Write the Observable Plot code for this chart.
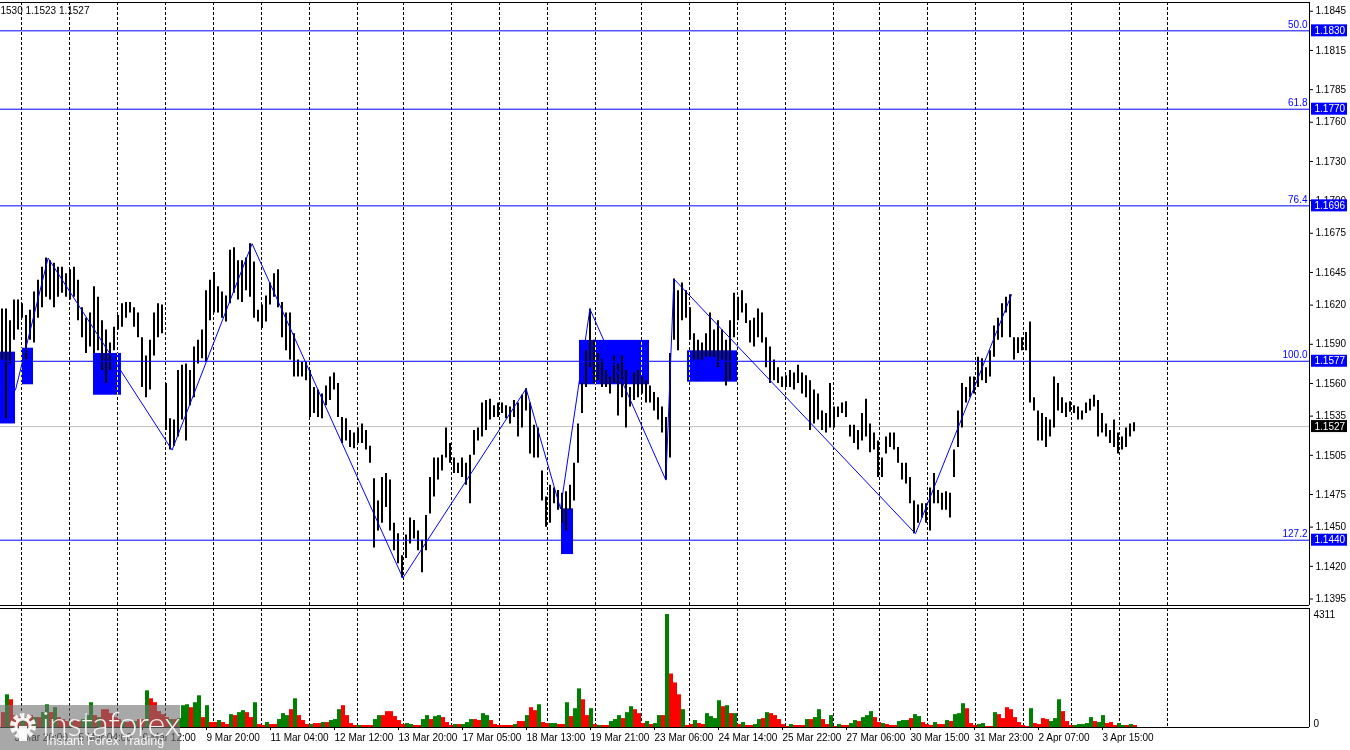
<!DOCTYPE html>
<html><head><meta charset="utf-8">
<script src="https://cdn.jsdelivr.net/npm/d3@7"></script>
<script src="https://cdn.jsdelivr.net/npm/@observablehq/plot@0.6"></script>
<style>
body{margin:0;background:#fff;overflow:hidden;font-family:"Liberation Sans",Arial,sans-serif}
#wrap{position:relative;width:1350px;height:750px;background:#fff}
#price,#vol{position:absolute;left:0}
#price{top:0}
#vol{top:607px}
#wm{position:absolute;left:0;top:705px;width:180px;height:45px;background:rgba(115,115,115,0.62);color:rgba(255,255,255,0.9)}
#wm .logo{position:absolute;left:42px;top:1px;line-height:1;font-family:Lato,"Open Sans",sans-serif;font-weight:300;font-size:34px;letter-spacing:-0.5px;white-space:nowrap}
#wm .sub{position:absolute;left:46px;top:30px;line-height:1;font-family:"Liberation Sans",Arial,sans-serif;font-size:12.5px;white-space:nowrap}
#wm svg{position:absolute;left:6px;top:4px}
</style></head><body>
<div id="wrap"><div id="price"></div><div id="vol"></div>
<div id="wm"><svg width="34" height="34" viewBox="0 0 34 34"><circle cx="17" cy="17" r="10" fill="none" stroke="rgba(255,255,255,0.9)" stroke-width="6" stroke-dasharray="4 2.3"/><circle cx="17" cy="17" r="7" fill="none" stroke="rgba(255,255,255,0.9)" stroke-width="3"/><rect x="13" y="17" width="8" height="15" fill="rgba(255,255,255,0.9)"/></svg><div class="logo">instaforex</div><div class="sub">Instant Forex Trading</div></div>
</div>
<script>
// ---- data (2-hour bars) ----
const highs = [
1.1617,1.1617,1.1608,1.1624,1.1624,1.1621,1.1612,1.1616,1.1630,1.1639,
1.1649,1.1656,1.1654,1.1652,1.1649,1.1649,1.1644,1.1647,1.1649,1.1639,
1.1618,1.1610,1.1614,1.1634,1.1626,1.1608,1.1601,1.1591,1.1603,1.1612,
1.1621,1.1622,1.1622,1.1618,1.1614,1.1595,1.1581,1.1593,1.1614,1.1621,
1.1620,1.1560,1.1533,1.1532,1.1570,1.1574,1.1575,1.1570,1.1588,1.1593,
1.1601,1.1631,1.1639,1.1645,1.1634,1.1630,1.1627,1.1662,1.1664,1.1654,
1.1654,1.1656,1.1667,1.1653,1.1616,1.1620,1.1627,1.1637,1.1644,1.1647,
1.1622,1.1614,1.1614,1.1598,1.1578,1.1576,1.1576,1.1570,1.1557,1.1555,
1.1552,1.1558,1.1565,1.1568,1.1560,1.1534,1.1533,1.1524,1.1522,1.1526,
1.1529,1.1524,1.1512,1.1487,1.1470,1.1488,1.1491,1.1486,1.1453,1.1445,
1.1428,1.1444,1.1457,1.1455,1.1447,1.1440,1.1459,1.1488,1.1503,1.1503,
1.1505,1.1526,1.1514,1.1503,1.1499,1.1503,1.1499,1.1505,1.1524,1.1526,
1.1545,1.1547,1.1548,1.1543,1.1545,1.1545,1.1543,1.1542,1.1547,1.1545,
1.1551,1.1556,1.1545,1.1528,1.1526,1.1493,1.1473,1.1482,1.1480,1.1478,
1.1476,1.1477,1.1482,1.1499,1.1529,1.1560,1.1585,1.1617,1.1593,1.1583,
1.1578,1.1570,1.1565,1.1581,1.1575,1.1581,1.1570,1.1557,1.1568,1.1570,
1.1565,1.1562,1.1558,1.1553,1.1549,1.1542,1.1534,1.1583,1.1640,1.1631,
1.1637,1.1631,1.1618,1.1598,1.1593,1.1591,1.1598,1.1614,1.1601,1.1608,
1.1601,1.1593,1.1608,1.1629,1.1626,1.1631,1.1621,1.1608,1.1610,1.1617,
1.1614,1.1595,1.1588,1.1578,1.1572,1.1565,1.1566,1.1570,1.1568,1.1574,
1.1568,1.1566,1.1562,1.1555,1.1552,1.1539,1.1537,1.1560,1.1542,1.1542,
1.1545,1.1546,1.1528,1.1528,1.1524,1.1537,1.1548,1.1529,1.1522,1.1516,
1.1503,1.1519,1.1522,1.1522,1.1511,1.1499,1.1499,1.1488,1.1470,1.1467,
1.1468,1.1468,1.1480,1.1491,1.1478,1.1476,1.1477,1.1476,1.1509,1.1539,
1.1560,1.1557,1.1565,1.1565,1.1580,1.1579,1.1572,1.1585,1.1604,1.1610,
1.1621,1.1626,1.1628,1.1595,1.1595,1.1595,1.1599,1.1607,1.1549,1.1539,
1.1537,1.1534,1.1532,1.1565,1.1560,1.1549,1.1545,1.1546,1.1543,1.1542,
1.1539,1.1545,1.1548,1.1551,1.1547,1.1537,1.1529,1.1524,1.1532,1.1522,
1.1519,1.1526,1.1529,1.1530];
const lows = [
1.1578,1.1533,1.1575,1.1593,1.1601,1.1610,1.1578,1.1593,1.1591,1.1610,
1.1618,1.1626,1.1624,1.1618,1.1626,1.1629,1.1626,1.1624,1.1626,1.1608,
1.1595,1.1583,1.1588,1.1583,1.1585,1.1570,1.1560,1.1570,1.1585,1.1601,
1.1603,1.1610,1.1614,1.1603,1.1595,1.1557,1.1549,1.1555,1.1581,1.1595,
1.1598,1.1524,1.1509,1.1512,1.1519,1.1532,1.1516,1.1543,1.1549,1.1575,
1.1579,1.1576,1.1608,1.1614,1.1614,1.1610,1.1607,1.1621,1.1629,1.1624,
1.1622,1.1631,1.1626,1.1610,1.1607,1.1602,1.1607,1.1620,1.1626,1.1618,
1.1595,1.1585,1.1578,1.1565,1.1565,1.1565,1.1562,1.1534,1.1537,1.1534,
1.1533,1.1543,1.1547,1.1555,1.1534,1.1514,1.1516,1.1511,1.1510,1.1514,
1.1514,1.1509,1.1499,1.1434,1.1447,1.1453,1.1465,1.1447,1.1432,1.1422,
1.1411,1.1426,1.1437,1.1441,1.1432,1.1415,1.1432,1.1460,1.1473,1.1486,
1.1493,1.1503,1.1499,1.1491,1.1491,1.1488,1.1482,1.1468,1.1505,1.1516,
1.1519,1.1524,1.1532,1.1534,1.1534,1.1537,1.1533,1.1529,1.1534,1.1519,
1.1526,1.1539,1.1506,1.1503,1.1503,1.1470,1.1450,1.1453,1.1468,1.1463,
1.1453,1.1447,1.1463,1.1470,1.1499,1.1537,1.1557,1.1572,1.1560,1.1562,
1.1557,1.1557,1.1552,1.1560,1.1535,1.1549,1.1526,1.1542,1.1547,1.1549,
1.1552,1.1545,1.1545,1.1539,1.1532,1.1522,1.1486,1.1503,1.1593,1.1585,
1.1608,1.1610,1.1593,1.1578,1.1578,1.1578,1.1580,1.1580,1.1580,1.1572,
1.1578,1.1558,1.1562,1.1595,1.1608,1.1614,1.1606,1.1591,1.1588,1.1595,
1.1591,1.1572,1.1560,1.1562,1.1560,1.1557,1.1557,1.1557,1.1555,1.1560,
1.1552,1.1549,1.1524,1.1529,1.1532,1.1524,1.1522,1.1526,1.1526,1.1534,
1.1537,1.1534,1.1519,1.1514,1.1509,1.1516,1.1519,1.1507,1.1509,1.1488,
1.1488,1.1506,1.1511,1.1509,1.1499,1.1486,1.1483,1.1468,1.1445,1.1453,
1.1457,1.1453,1.1447,1.1468,1.1468,1.1463,1.1463,1.1457,1.1488,1.1511,
1.1526,1.1545,1.1549,1.1552,1.1557,1.1562,1.1560,1.1565,1.1580,1.1593,
1.1595,1.1614,1.1595,1.1578,1.1583,1.1585,1.1585,1.1545,1.1539,1.1516,
1.1516,1.1511,1.1519,1.1526,1.1539,1.1537,1.1534,1.1538,1.1537,1.1532,
1.1532,1.1537,1.1539,1.1542,1.1519,1.1522,1.1519,1.1514,1.1511,1.1506,
1.1509,1.1511,1.1519,1.1523];
const volumes = [
567,1247,1058,454,378,302,378,454,378,378,
567,869,567,756,378,302,227,189,302,227,
302,454,945,454,378,680,680,529,378,302,
227,189,227,227,302,302,1399,1096,945,605,
491,378,302,302,340,832,869,756,945,1210,
378,832,189,189,265,189,113,491,454,567,
643,567,378,945,113,76,189,113,113,302,
529,454,680,1096,454,265,113,113,151,151,
189,189,265,302,680,832,454,151,76,76,
76,76,76,302,454,454,605,605,416,265,
113,151,113,76,76,302,454,302,416,454,
378,189,76,113,113,113,189,302,302,265,
529,454,265,113,76,76,76,76,113,227,
227,454,756,643,869,189,151,151,151,113,
113,945,416,718,1474,1058,454,718,113,76,
76,76,227,302,454,340,567,794,680,529,
151,227,113,151,454,454,4311,2041,1701,1247,
680,76,113,265,151,113,529,416,340,1021,
794,832,529,529,113,189,76,76,113,302,
340,567,529,454,302,113,38,113,76,76,
76,302,302,378,680,302,113,454,38,113,
76,76,151,265,227,378,454,605,378,189,
151,113,76,76,227,265,265,340,491,416,
189,113,76,189,113,113,265,227,491,529,
907,718,151,76,113,151,38,38,567,491,
340,756,680,378,189,76,38,718,151,113,
340,302,227,340,1058,605,227,76,76,113,
113,151,378,227,189,454,151,189,76,151,
76,76,113,76];
const volUp = [
0,1,0,0,0,1,0,0,1,0, 1,1,0,1,0,0,0,1,0,0, 1,1,1,0,1,0,0,0,0,0, 1,0,0,1,0,0,1,0,0,0,
0,0,1,0,1,1,1,0,1,1, 0,1,0,0,1,0,0,1,0,1, 1,0,0,1,0,0,1,0,0,1, 1,1,0,1,0,0,0,1,0,0,
1,0,1,1,1,0,0,0,0,1, 0,0,0,1,1,0,0,0,0,0, 0,1,1,0,0,1,1,0,1,1, 0,0,0,1,0,1,1,1,0,0,
1,1,0,0,0,0,0,0,1,0, 0,1,0,0,1,0,0,1,1,0, 0,1,0,1,1,0,0,1,0,1, 0,0,1,1,1,0,1,1,0,0,
0,1,0,1,1,0,1,0,0,0, 1,0,0,1,0,0,1,1,1,1, 0,1,0,1,0,1,0,0,1,1, 0,1,0,0,0,0,0,1,0,0,
0,1,0,1,1,0,0,1,0,1, 0,0,1,1,0,1,1,1,0,0, 1,0,0,0,1,1,1,0,1,1, 0,0,0,1,0,0,1,0,1,1,
1,0,0,0,1,1,0,0,1,0, 0,0,0,0,0,0,0,1,0,0, 0,0,1,1,1,0,0,0,1,1, 1,1,1,0,1,1,0,0,0,1,
1,0,1,0];

const priceTicks = [1.1845,1.1815,1.1785,1.1760,1.1730,1.1700,1.1675,1.1645,1.1620,1.1590,1.1560,1.1535,1.1505,1.1475,1.1450,1.1420,1.1395];
const fiboLevels = [1.1830,1.1770,1.1696,1.1577,1.1440];
const fiboNames = ["50.0","61.8","76.4","100.0","127.2"];
const lastPrice = 1.1527;
const headerText = "1530 1.1523 1.1527";
const volMax = 4311;

// zigzag (hour index, price)
const zigHour = [7,23.3,85.3,125.3,200.7,262.3,279.5,294.2,332.2,336.2,457,505];
const zigPrice = [1.1555,1.1656,1.1509,1.1667,1.1411,1.1556,1.1464,1.1617,1.1486,1.1640,1.1445,1.1628];

// blue zones
const zoneStart = [-0.5,10,46,280,289,343];
const zoneEnd = [7,16,60,286,324,368];
const zoneTop = [1.1584,1.1587,1.1583,1.1464,1.1593,1.1585];
const zoneBottom = [1.1529,1.1559,1.1551,1.1429,1.1559,1.1561];

// day separators and time labels (hour index of H1 bars)
const dayStarts = [10,34,58,82,106,130,154,178,201,225,249,273,297,320,344,368,392,416,439,463,487,511,535,559,583];
const timeLabelHours = [6,38,70,102,134,166,198,230,262,294,326,358,390,422,454,486,518,550];
const timeLabels = ["3 Mar 20:00","5 Mar 04:00","6 Mar 12:00","9 Mar 20:00","11 Mar 04:00","12 Mar 12:00","13 Mar 20:00","17 Mar 05:00","18 Mar 13:00","19 Mar 21:00","23 Mar 06:00","24 Mar 14:00","25 Mar 22:00","27 Mar 06:00","30 Mar 15:00","31 Mar 23:00","2 Apr 07:00","3 Apr 15:00"];

// ---- build ----
const W = 1350, XMAX = 654, PH = 607, VH = 143;
const yDom = [1.1390, 1.18517];
const pxPerPrice = (PH - 4) / (yDom[1] - yDom[0]);
const half = 6 / pxPerPrice;
const boxX1 = 655, boxX2 = 673;

const bars = highs.map((h, j) => ({t: 2 * j + 0.25, high: h, low: lows[j]}));
const vols = volumes.map((v, j) => ({t0: 2 * j, t1: 2 * j + 2, v, up: volUp[j]}));
const zig = zigHour.map((h, i) => ({h, p: zigPrice[i]}));
const zones = zoneStart.map((s, i) => ({s, e: zoneEnd[i], top: zoneTop[i], bot: zoneBottom[i]}));
const fibo = fiboLevels.map((p, i) => ({p, name: fiboNames[i]}));
const font = {fontFamily: "'Liberation Sans', Arial, sans-serif", fontSize: "10px", background: "white", overflow: "visible"};

const price = Plot.plot({
  width: W, height: PH,
  marginLeft: 0, marginRight: W - 1309, marginTop: 2, marginBottom: 2,
  style: font,
  x: {domain: [-0.5, XMAX], axis: null},
  y: {domain: yDom, axis: null},
  marks: [
    Plot.rect(zones, {x1: "s", x2: "e", y1: "bot", y2: "top", fill: "#0000ff"}),
    Plot.ruleX(dayStarts, {stroke: "white", strokeDasharray: "3,2", mixBlendMode: "difference"}),
    Plot.ruleY([lastPrice], {stroke: "#c0c0c0"}),
    Plot.ruleX(bars, {x: "t", y1: "low", y2: "high", stroke: "black", strokeWidth: 2}),
    Plot.ruleY(fiboLevels, {stroke: "#0000ff"}),
    Plot.line(zig, {x: "h", y: "p", stroke: "#0000ff", strokeWidth: 1}),
    Plot.ruleY([yDom[1]], {stroke: "black"}),
    Plot.ruleY([yDom[0]], {stroke: "black"}),
    Plot.ruleX([XMAX], {stroke: "black"}),
    Plot.axisY({anchor: "right", ticks: priceTicks, tickFormat: d => d.toFixed(4), tickSize: 3, tickPadding: 3, fontSize: 10, label: null}),
    Plot.text(fibo, {x: () => XMAX, y: "p", text: "name", textAnchor: "end", dx: -2, dy: -6, fill: "#0000ff", fontSize: 10}),
    Plot.rect(fibo, {x1: () => boxX1, x2: () => boxX2, y1: d => d.p - half, y2: d => d.p + half, fill: "#0000ff"}),
    Plot.text(fibo, {x: () => boxX1, y: "p", text: d => d.p.toFixed(4), textAnchor: "start", dx: 3, fill: "white", fontSize: 10}),
    Plot.rect([lastPrice], {x1: () => boxX1, x2: () => boxX2, y1: d => d - half, y2: d => d + half, fill: "black"}),
    Plot.text([lastPrice], {x: () => boxX1, y: d => d, text: d => d.toFixed(4), textAnchor: "start", dx: 3, fill: "white", fontSize: 10}),
    Plot.text([headerText], {frameAnchor: "top-left", text: d => d, textAnchor: "start", lineAnchor: "top", dy: 4, fontSize: 10, fill: "black"})
  ]
});
document.getElementById("price").appendChild(price);

const vTop = volMax * (120 - 1) / (120 - 7);
const vol = Plot.plot({
  width: W, height: VH,
  marginLeft: 0, marginRight: W - 1309, marginTop: 1, marginBottom: VH - 120,
  style: font,
  x: {domain: [-0.5, XMAX], axis: null},
  y: {domain: [0, vTop], axis: null},
  marks: [
    Plot.ruleX(dayStarts, {stroke: "black", strokeDasharray: "3,2"}),
    Plot.rectY(vols, {x1: "t0", x2: "t1", y: "v", fill: d => d.up ? "#008000" : "#ff0000"}),
    Plot.ruleY([vTop], {stroke: "black"}),
    Plot.ruleY([0], {stroke: "black"}),
    Plot.ruleX([XMAX], {stroke: "black"}),
    Plot.text([volMax], {x: () => boxX1, y: d => d, text: d => String(d), textAnchor: "start", dx: 2, fontSize: 10, fill: "black"}),
    Plot.text([0], {x: () => boxX1, y: d => d, text: d => String(d), textAnchor: "start", lineAnchor: "bottom", dx: 2, dy: -1, fontSize: 10, fill: "black"}),
    Plot.axisX({anchor: "bottom", ticks: timeLabelHours, tickFormat: d => timeLabels[timeLabelHours.indexOf(d)], textAnchor: "start", dx: 1, tickSize: 3, tickPadding: 3, fontSize: 10, label: null})
  ]
});
document.getElementById("vol").appendChild(vol);
</script>
</body></html>
